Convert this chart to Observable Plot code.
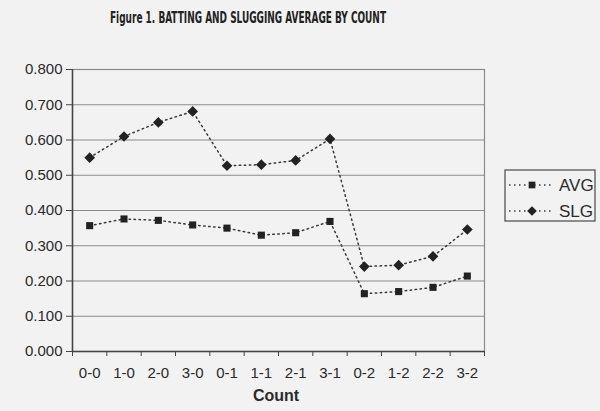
<!DOCTYPE html>
<html>
<head>
<meta charset="utf-8">
<script src="https://cdn.jsdelivr.net/npm/d3@7"></script>
<script src="https://cdn.jsdelivr.net/npm/@observablehq/plot@0.6"></script>
<style>
  html, body { margin: 0; padding: 0; background: #f2f2f2; }
  #chart svg { display: block; }
</style>
</head>
<body>
<div id="chart"></div>
<script>
const counts = ["0-0","1-0","2-0","3-0","0-1","1-1","2-1","3-1","0-2","1-2","2-2","3-2"];
const avg = [0.357,0.376,0.372,0.359,0.350,0.330,0.337,0.369,0.164,0.170,0.182,0.214];
const slg = [0.550,0.610,0.650,0.681,0.527,0.530,0.542,0.603,0.241,0.245,0.270,0.346];
const yTicks = [0,0.1,0.2,0.3,0.4,0.5,0.6,0.7,0.8];
const seriesNames = ["AVG","SLG"];

const data = counts.flatMap((c, i) => [
  {i, count: c, series: "AVG", v: avg[i]},
  {i, count: c, series: "SLG", v: slg[i]}
]);

const chart = Plot.plot({
  width: 600,
  height: 411,
  marginLeft: 72,
  marginRight: 116,
  marginTop: 69,
  marginBottom: 60,
  style: {background: "#f2f2f2", fontFamily: "Liberation Sans, Arial, sans-serif", fontSize: "15px", color: "#2a2a2a"},
  x: {domain: [-0.5, counts.length - 0.5]},
  y: {domain: [0, 0.8]},
  marks: [
    Plot.ruleY(yTicks, {stroke: "#8a8a8a", strokeWidth: 1.2}),
    Plot.frame({stroke: "#8a8a8a", strokeWidth: 1.2}),
    Plot.ruleX([-0.5], {stroke: "#444", strokeWidth: 1.5}),
    Plot.ruleY([0], {stroke: "#444", strokeWidth: 1.5}),
    Plot.axisY({ticks: yTicks, tickFormat: ".3f", tickSize: 6, tickPadding: 4, label: null, stroke: "#444", fontSize: 15}),
    Plot.axisX({ticks: d3.range(-0.5, counts.length, 1), tickFormat: () => "", tickSize: 5, label: null, stroke: "#444"}),
    Plot.axisX({ticks: d3.range(counts.length), tickFormat: i => counts[i], tickSize: 0, tickPadding: 16, label: null, fontSize: 15}),
    Plot.line(data, {x: "i", y: "v", z: "series", stroke: "#3a3a3a", strokeWidth: 1.5, strokeDasharray: "1.5,3.5"}),
    Plot.dot(data.filter(d => d.series === "AVG"), {x: "i", y: "v", symbol: "square", r: 4, fill: "#222"}),
    Plot.dot(data.filter(d => d.series === "SLG"), {x: "i", y: "v", symbol: "diamond2", r: 4.8, fill: "#222"})
  ]
});

const svg = d3.select(chart);
// Title
svg.append("text")
  .attr("x", 110).attr("y", 23).attr("text-anchor", "start")
  .attr("textLength", 276).attr("lengthAdjust", "spacingAndGlyphs")
  .attr("font-family", "DejaVu Sans Condensed, DejaVu Sans, sans-serif")
  .attr("font-weight", "bold").attr("font-size", 15).attr("fill", "#222")
  .text("Figure 1. BATTING AND SLUGGING AVERAGE BY COUNT");
// X axis title
svg.append("text")
  .attr("x", 276).attr("y", 401).attr("text-anchor", "middle")
  .attr("font-weight", "bold").attr("font-size", 16).attr("fill", "#2a2a2a")
  .text("Count");
// Legend
const lg = svg.append("g");
lg.append("rect").attr("x", 505).attr("y", 170).attr("width", 90).attr("height", 51)
  .attr("fill", "none").attr("stroke", "#555").attr("stroke-width", 1.3);
seriesNames.forEach((name, k) => {
  const yy = 185 + k * 26;
  lg.append("line").attr("x1", 509).attr("x2", 554).attr("y1", yy).attr("y2", yy)
    .attr("stroke", "#3a3a3a").attr("stroke-width", 1.5).attr("stroke-dasharray", "1.5,3.5");
  const sym = k === 0 ? d3.symbolSquare : d3.symbolDiamond2;
  lg.append("path").attr("d", d3.symbol(sym, k === 0 ? 45 : 60)())
    .attr("transform", `translate(532,${yy})`).attr("fill", "#222");
  lg.append("text").attr("x", 559).attr("y", yy + 6).attr("text-anchor", "start")
    .attr("font-size", 17).attr("fill", "#2a2a2a").text(name);
});

document.getElementById("chart").appendChild(chart);
</script>
</body>
</html>
